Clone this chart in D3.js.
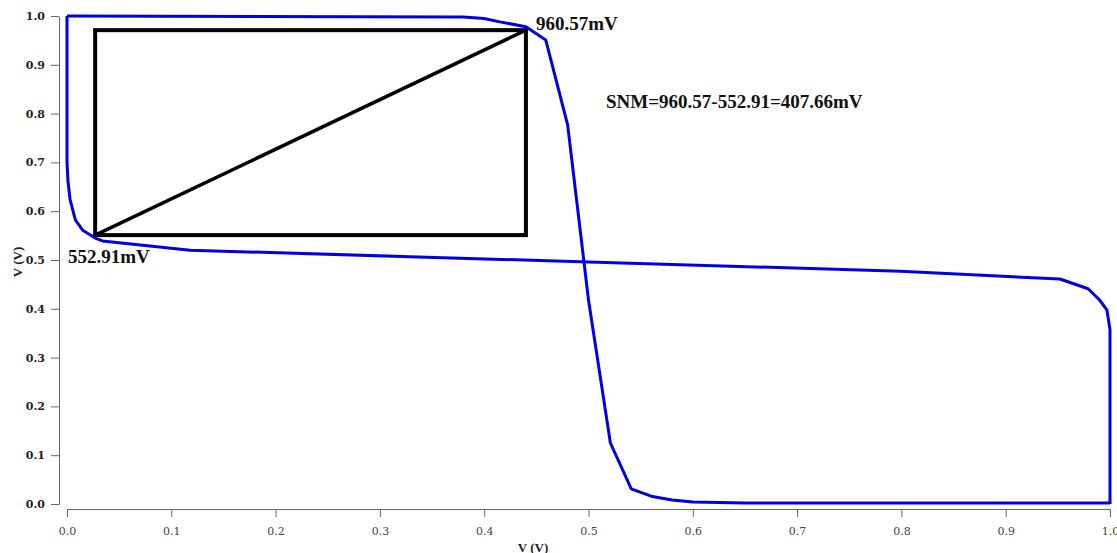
<!DOCTYPE html>
<html>
<head>
<meta charset="utf-8">
<script src="https://cdn.jsdelivr.net/npm/d3@7"></script>
<style>
  body { margin: 0; background: #fff; }
  svg { display: block; }
</style>
</head>
<body>
<svg></svg>
<script>
// inverter 1: Vout vs Vin
let curveAx = [0.0, 0.38, 0.40, 0.415, 0.44, 0.459, 0.480, 0.500, 0.521, 0.541, 0.560, 0.580, 0.600, 0.650, 0.700, 1.0]
let curveAy = [1.0, 0.998, 0.995, 0.988, 0.978, 0.951, 0.777, 0.418, 0.125, 0.031, 0.016, 0.008, 0.004, 0.002, 0.002, 0.002]

// inverter 2 (mirrored)
let curveBx = [0.0, 0.0, 0.001, 0.003, 0.008, 0.015, 0.027, 0.034, 0.118, 0.5, 0.799, 0.952, 0.979, 0.990, 0.997, 1.0, 1.0]
let curveBy = [1.0, 0.70, 0.66, 0.623, 0.582, 0.561, 0.545, 0.539, 0.520, 0.496, 0.477, 0.461, 0.441, 0.418, 0.398, 0.357, 0.0]

// largest square box
let boxX = [0.027, 0.44]
let boxY = [0.551, 0.971]

let xTicks = [0, 0.1, 0.2, 0.3, 0.4, 0.5, 0.6, 0.7, 0.8, 0.9, 1.0]
let yTicks = [0, 0.1, 0.2, 0.3, 0.4, 0.5, 0.6, 0.7, 0.8, 0.9, 1.0]

let width = 1117
let height = 553

let svg = d3.select('svg')
  .attr('width', width)
  .attr('height', height)

let xScale = d3.scaleLinear().domain([0, 1]).range([67, 1110])
let yScale = d3.scaleLinear().domain([0, 1]).range([504, 16])

// axes
let xAxis = d3.axisBottom(xScale)
  .tickValues(xTicks)
  .tickFormat(d3.format('.1f'))
  .tickSizeInner(8)
  .tickSizeOuter(0)
  .tickPadding(10)

let yAxis = d3.axisLeft(yScale)
  .tickValues(yTicks)
  .tickFormat(d3.format('.1f'))
  .tickSizeInner(8)
  .tickSizeOuter(0)
  .tickPadding(6)

let gx = svg.append('g')
  .attr('transform', 'translate(0,509)')
  .call(xAxis)
gx.selectAll('text')
  .attr('fill', '#444')
  .style('font-family', '"DejaVu Serif", serif')
  .style('font-size', '11px')

let gy = svg.append('g')
  .attr('transform', 'translate(59,0)')
  .call(yAxis)
gy.selectAll('text')
  .attr('fill', '#222')
  .style('font-family', '"DejaVu Serif", serif')
  .style('font-weight', 'bold')
  .style('font-size', '11px')

svg.selectAll('.domain, .tick line').attr('stroke', '#666')

// axis titles
svg.append('text')
  .attr('x', 533)
  .attr('y', 552)
  .attr('text-anchor', 'middle')
  .style('font-family', '"Liberation Serif", serif')
  .style('font-weight', 'bold')
  .style('font-size', '13px')
  .attr('fill', '#222')
  .text('V (V)')

svg.append('text')
  .attr('transform', 'translate(22,262) rotate(-90)')
  .attr('text-anchor', 'middle')
  .style('font-family', '"Liberation Serif", serif')
  .style('font-weight', 'bold')
  .style('font-size', '13px')
  .attr('fill', '#222')
  .text('V (V)')

// curves
let line = d3.line()
  .x((d) => xScale(d[0]))
  .y((d) => yScale(d[1]))

let curveA = curveAx.map((x, i) => [x, curveAy[i]])
let curveB = curveBx.map((x, i) => [x, curveBy[i]])

// box with diagonal
svg.append('rect')
  .attr('x', xScale(boxX[0]))
  .attr('y', yScale(boxY[1]))
  .attr('width', xScale(boxX[1]) - xScale(boxX[0]))
  .attr('height', yScale(boxY[0]) - yScale(boxY[1]))
  .attr('fill', 'none')
  .attr('stroke', '#000')
  .attr('stroke-width', 4)

svg.append('path')
  .attr('d', line([[boxX[0], boxY[0]], [boxX[1], boxY[1]]]))
  .attr('fill', 'none')
  .attr('stroke', '#000')
  .attr('stroke-width', 3.5)

svg.selectAll('.vtc')
  .data([curveA, curveB])
  .enter()
  .append('path')
  .attr('class', 'vtc')
  .attr('d', (d) => line(d))
  .attr('fill', 'none')
  .attr('stroke', '#0000e6')
  .attr('stroke-width', 3)
  .attr('stroke-linejoin', 'round')

// annotations
let notes = [
  {text: '960.57mV', x: 536, y: 30, size: 19},
  {text: '552.91mV', x: 68, y: 263, size: 19},
  {text: 'SNM=960.57-552.91=407.66mV', x: 606, y: 108, size: 19}
]

svg.selectAll('.note')
  .data(notes)
  .enter()
  .append('text')
  .attr('class', 'note')
  .attr('x', (d) => d.x)
  .attr('y', (d) => d.y)
  .style('font-family', '"Liberation Serif", serif')
  .style('font-weight', 'bold')
  .style('font-size', (d) => d.size + 'px')
  .attr('fill', '#111')
  .text((d) => d.text)
</script>
</body>
</html>
